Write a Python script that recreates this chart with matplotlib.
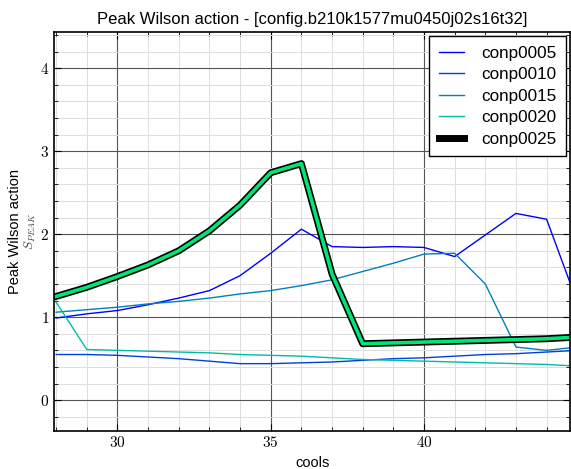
import matplotlib
matplotlib.use('Agg')
import matplotlib.pyplot as plt
from matplotlib.ticker import MultipleLocator

plt.rcParams['font.family'] = ['Liberation Sans', 'DejaVu Sans']
plt.rcParams['mathtext.fontset'] = 'cm'

cools = [28, 29, 30, 31, 32, 33, 34, 35, 36, 37, 38, 39, 40, 41, 42, 43, 44, 45]
conp0005 = [0.99, 1.04, 1.08, 1.15, 1.23, 1.32, 1.50, 1.77, 2.06, 1.85, 1.84, 1.85, 1.84, 1.73, 1.99, 2.25, 2.18, 1.18]
conp0010 = [0.55, 0.55, 0.54, 0.52, 0.50, 0.47, 0.44, 0.44, 0.45, 0.46, 0.48, 0.50, 0.51, 0.53, 0.55, 0.56, 0.58, 0.60]
conp0015 = [1.06, 1.09, 1.12, 1.16, 1.19, 1.23, 1.28, 1.32, 1.38, 1.45, 1.55, 1.65, 1.76, 1.77, 1.40, 0.64, 0.60, 0.64]
conp0020 = [1.18, 0.61, 0.60, 0.59, 0.58, 0.57, 0.55, 0.54, 0.53, 0.51, 0.49, 0.48, 0.47, 0.46, 0.45, 0.44, 0.43, 0.41]
conp0025 = [1.25, 1.36, 1.49, 1.63, 1.80, 2.04, 2.35, 2.74, 2.85, 1.52, 0.68, 0.69, 0.70, 0.71, 0.72, 0.73, 0.74, 0.76]

labels = ['conp0005', 'conp0010', 'conp0015', 'conp0020']
thin = [conp0005, conp0010, conp0015, conp0020]
colors = ['#0000ff', '#0040df', '#0080bf', '#00bf9f']

fig = plt.figure(figsize=(5.71, 4.69), dpi=100)
ax = fig.add_axes([0.0946, 0.082, 0.904, 0.850])

for ys, c, lab in zip(thin, colors, labels):
    ax.plot(cools, ys, color=c, lw=1.0, label=lab)
ax.plot(cools, conp0025, color='black', lw=5.0, label='conp0025')
ax.plot(cools, conp0025, color='#00e676', lw=2.6)

ax.set_xlim(27.93, 44.77)
ax.set_ylim(-0.366, 4.437)
ax.xaxis.set_major_locator(MultipleLocator(5))
ax.xaxis.set_minor_locator(MultipleLocator(1))
ax.yaxis.set_major_locator(MultipleLocator(1))
ax.yaxis.set_minor_locator(MultipleLocator(0.2))
ax.xaxis.set_major_formatter(plt.FuncFormatter(lambda v, p: f'${v:.0f}$'))
ax.yaxis.set_major_formatter(plt.FuncFormatter(lambda v, p: f'${v:.0f}$'))
ax.grid(which='major', color='#555555', lw=0.8)
ax.grid(which='minor', color='#dddddd', lw=0.7)
ax.set_axisbelow(True)
ax.tick_params(which='both', direction='in', top=True, right=True, labelsize=11)
ax.tick_params(which='major', length=5)
ax.tick_params(which='minor', length=3)
for s in ax.spines.values():
    s.set_linewidth(1.2)

ax.set_title('Peak Wilson action - [config.b210k1577mu0450j02s16t32]', fontsize=12)
ax.set_xlabel('cools', fontsize=10.5)
# two-line y label: plain text, then the symbol in smaller type
ax.text(-0.076, 0.5, 'Peak Wilson action', transform=ax.transAxes, rotation=90,
        ha='center', va='center', fontsize=10.5)
ax.text(-0.046, 0.5, '$S_{PEAK}$', transform=ax.transAxes, rotation=90,
        ha='center', va='center', fontsize=9.5, color='#444444')

leg = ax.legend(loc='upper right', fontsize=12.3, fancybox=False, framealpha=1,
                edgecolor='black', handlelength=1.5, handletextpad=1.0,
                borderpad=0.55, labelspacing=0.38, borderaxespad=0.25)
leg.get_frame().set_linewidth(1.0)

fig.savefig('out.png', dpi=100)
